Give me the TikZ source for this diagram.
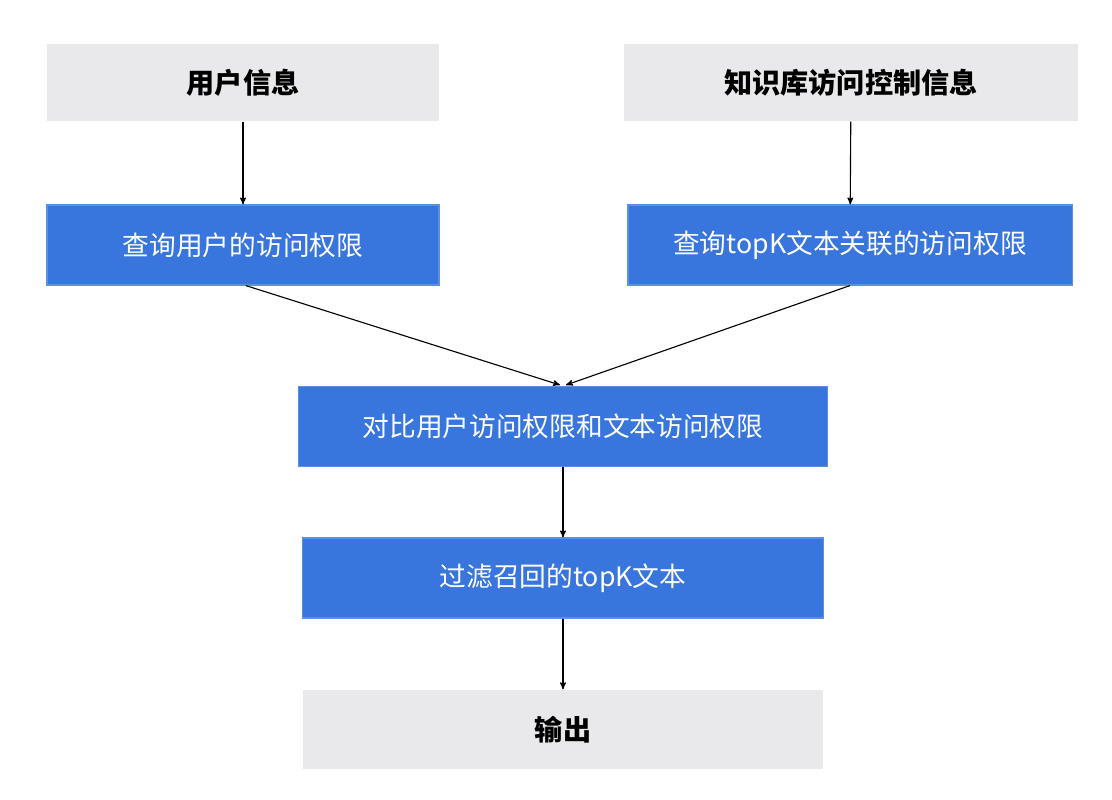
\documentclass[tikz,border=0pt]{standalone}
\usepackage{fontspec}
\setmainfont{Noto Sans CJK SC}
\usetikzlibrary{arrows}
\definecolor{boxgray}{HTML}{E9E9EB}
\definecolor{boxblue}{HTML}{3875DC}
\definecolor{lineblue}{HTML}{5A8FE6}
\begin{document}
\begin{tikzpicture}[x=0.025cm,y=-0.025cm,>=stealth',thick,
    gray box/.style={fill=boxgray,draw=none,font=\fontsize{20}{24}\selectfont\bfseries,text=black,inner sep=0pt},
    blue box/.style={fill=boxblue,draw=lineblue,line width=0.8pt,font=\fontsize{19}{23}\selectfont,text=white,inner sep=0pt}]

    % Background
    \useasboundingbox (0,0) rectangle (1112,800);

    % Nodes
    % Inputs
    \node[gray box,minimum width=9.8cm,minimum height=1.93cm] (U) at (243,82.5) {用户信息};
    \node[gray box,minimum width=11.35cm,minimum height=1.93cm] (K) at (851,82.5) {知识库访问控制信息};

    % Queries
    \node[blue box,minimum width=9.8cm,minimum height=2cm] (QU) at (243,245) {查询用户的访问权限};
    \node[blue box,minimum width=11.1cm,minimum height=2cm] (QK) at (850,245) {查询topK文本关联的访问权限};

    % Compare, filter, output
    \node[blue box,minimum width=13.2cm,minimum height=1.98cm] (C) at (563,426.5) {对比用户访问权限和文本访问权限};
    \node[blue box,minimum width=13.02cm,minimum height=2cm] (F) at (563,578) {过滤召回的topK文本};
    \node[gray box,minimum width=13.02cm,minimum height=1.98cm] (O) at (563,729.5) {输出};

    \coordinate (CL) at (560,385);
    \coordinate (CR) at (566,385);

    % Edges
    \draw[->] (U) -- (QU);
    \draw[->] (K) -- (QK);
    \draw[->] ([xshift=2]QU.south) -- (CL);
    \draw[->] (QK.south) -- (CR);
    \draw[->] (C) -- (F);
    \draw[->] (F) -- (O);
\end{tikzpicture}
\end{document}
